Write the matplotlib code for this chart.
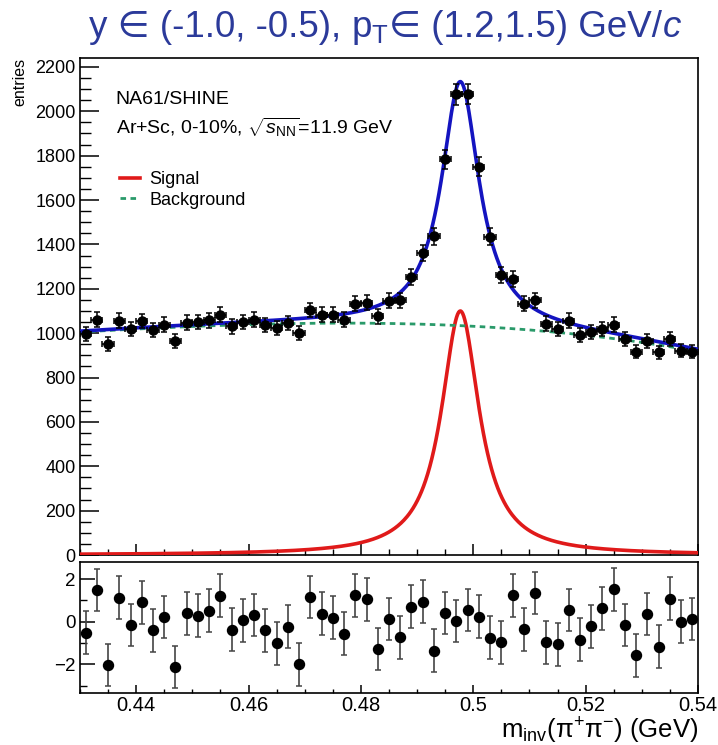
import numpy as np
import matplotlib
matplotlib.use('Agg')
import matplotlib.pyplot as plt
from matplotlib.lines import Line2D
from matplotlib.ticker import MultipleLocator, FuncFormatter
from matplotlib.offsetbox import TextArea, HPacker, AnnotationBbox

plt.rcParams['font.family'] = ['Liberation Sans', 'DejaVu Sans']
plt.rcParams['mathtext.fontset'] = 'custom'
plt.rcParams['mathtext.rm'] = 'Liberation Sans'
plt.rcParams['mathtext.it'] = 'Liberation Sans:italic'

# bin centres of the invariant mass histogram (GeV)
bin_lo = 0.430
bin_width = 0.002
n_bins = 55

# entries per bin
entries = [996, 1061, 952, 1057, 1019, 1054, 1013, 1039, 966, 1048,
           1049, 1058, 1084, 1030, 1049, 1061, 1036, 1022, 1046, 1000,
           1104, 1084, 1084, 1061, 1132, 1137, 1076, 1145, 1148, 1254,
           1360, 1437, 1784, 2076, 2079, 1750, 1435, 1263, 1243, 1132,
           1149, 1043, 1020, 1057, 993, 1005, 1019, 1039, 973, 917,
           966, 913, 975, 921, 917]

# pulls (data - fit) / error for the lower panel
pulls = [-0.52, 1.49, -2.04, 1.13, -0.16, 0.91, -0.41, 0.21, -2.13, 0.39,
         0.28, 0.52, 1.22, -0.38, 0.06, 0.31, -0.41, -1.02, -0.23, -2.00,
         1.15, 0.38, 0.19, -0.56, 1.24, 1.05, -1.28, 0.13, -0.74, 0.71,
         0.94, -1.36, 0.41, 0.03, 0.54, 0.24, -0.75, -0.97, 1.24, -0.36,
         1.35, -0.97, -1.06, 0.54, -0.85, -0.22, 0.63, 1.52, -0.16, -1.58,
         0.36, -1.18, 1.08, 0.00, 0.13]

# fit parameters: Lorentzian signal + cubic background
sig_amp = 1100.0
sig_mass = 0.4977
sig_hwhm = 0.0041
bkg_ref = 0.485
bkg_coef = [1043.7, -4.04, -2.73, -0.131]   # in powers of (m - 0.485)/0.01

centers = bin_lo + bin_width * (np.arange(n_bins) + 0.5)
entries = np.array(entries)
errors = np.sqrt(entries)

m = np.linspace(0.43, 0.54, 600)
u = (m - bkg_ref) / 0.01
background = bkg_coef[0] + bkg_coef[1] * u + bkg_coef[2] * u**2 + bkg_coef[3] * u**3
signal = sig_amp / (1 + ((m - sig_mass) / sig_hwhm)**2)
total = signal + background

red = '#e01a1a'
green = '#2a9a6a'
blue = '#1414c0'
dash = (0, (2.0, 1.6))

fig = plt.figure(figsize=(7.18, 7.45), dpi=100)
ax = fig.add_axes([0.1114, 0.2550, 0.8607, 0.6671])
axr = fig.add_axes([0.1114, 0.0698, 0.8607, 0.1758])

# upper panel
ax.plot(m, signal, color=red, lw=2.6, zorder=3)
ax.plot(m, background, color=green, lw=2.0, ls=dash, zorder=3)
ax.plot(m, total, color=blue, lw=2.6, zorder=4)
ax.errorbar(centers, entries, xerr=bin_width / 2, yerr=errors, fmt='o', color='black',
            ms=6.5, elinewidth=1.1, capsize=2, capthick=1.1, zorder=5)

ax.set_xlim(0.43, 0.54)
ax.set_ylim(0, 2240)
ax.yaxis.set_major_locator(MultipleLocator(200))
ax.yaxis.set_minor_locator(MultipleLocator(50))
ax.xaxis.set_major_locator(MultipleLocator(0.02))
ax.xaxis.set_minor_locator(MultipleLocator(0.005))
ax.tick_params(axis='y', which='major', direction='in', length=14, width=1.1, labelsize=13, pad=3)
ax.tick_params(axis='y', which='minor', direction='in', length=8, width=1.0)
ax.tick_params(axis='x', which='major', direction='in', length=8, width=1.1, labelbottom=False)
ax.tick_params(axis='x', which='minor', direction='in', length=4, width=1.0)
for s in ax.spines.values():
    s.set_linewidth(1.2)

ax.text(0.058, 0.9175, 'NA61/SHINE', transform=ax.transAxes, fontsize=14, va='center')
ax.text(0.058, 0.861, r'Ar+Sc, 0-10%, $\sqrt{s_{\mathrm{NN}}}$=11.9 GeV',
        transform=ax.transAxes, fontsize=14, va='center')

handles = [Line2D([], [], color=red, lw=2.6),
           Line2D([], [], color=green, lw=2.0, ls=dash)]
ax.legend(handles, ['Signal', 'Background'], loc='upper left', bbox_to_anchor=(0.038, 0.805),
          frameon=False, fontsize=13, handlelength=1.1, handletextpad=0.55, labelspacing=0.2)

# lower panel with pulls
axr.errorbar(centers, pulls, yerr=1.0, fmt='o', color='black', ecolor='#444444',
             ms=7.2, elinewidth=1.2, capsize=2, capthick=1.1)
axr.set_xlim(0.43, 0.54)
axr.set_ylim(-3.35, 2.8)
axr.yaxis.set_major_locator(MultipleLocator(2))
axr.yaxis.set_minor_locator(MultipleLocator(1))
axr.xaxis.set_major_locator(MultipleLocator(0.02))
axr.xaxis.set_minor_locator(MultipleLocator(0.005))
axr.xaxis.set_major_formatter(FuncFormatter(lambda v, p: ('%.2f' % v).rstrip('0').rstrip('.')))
axr.tick_params(axis='y', which='major', direction='in', length=11, width=1.1, labelsize=13.5, pad=3)
axr.tick_params(axis='y', which='minor', direction='in', length=5, width=1.0)
axr.tick_params(axis='x', which='major', direction='in', length=6, width=1.1, labelsize=14.5, pad=2)
axr.tick_params(axis='x', which='minor', direction='in', length=3, width=1.0)
for s in axr.spines.values():
    s.set_linewidth(1.2)

# title built from pieces so that the plain-text ∈ can fall back to DejaVu Sans
tcol = '#2b3a9a'
tsize = 26.5
tprops = dict(color=tcol, fontsize=tsize, family=['Liberation Sans', 'DejaVu Sans'])
pieces = [TextArea('y ∈ (-1.0, -0.5), ', textprops=tprops),
          TextArea(r'p$_{\mathrm{T}}$', textprops=tprops),
          TextArea('∈ (1.2,1.5) GeV/', textprops=tprops),
          TextArea('c', textprops=dict(tprops, style='italic'))]
title_box = HPacker(children=pieces, align='baseline', pad=0, sep=0)
fig.add_artist(AnnotationBbox(title_box, (0.536, 0.962), xycoords='figure fraction',
                              box_alignment=(0.5, 0.5), frameon=False, pad=0))

fig.text(0.972, 0.019, 'm$_{\\mathrm{inv}}$(π$^{+}$π$^{-}$) (GeV)', ha='right', va='center', fontsize=18.5)
fig.text(0.027, 0.922, 'entries', rotation=90, ha='center', va='top', fontsize=11.5)

fig.savefig('out.png', dpi=100)
